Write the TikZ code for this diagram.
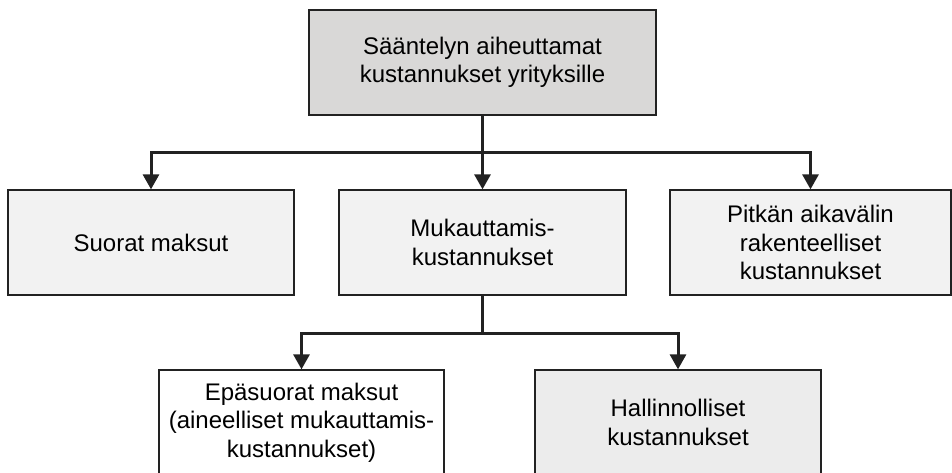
\documentclass[tikz,border=0pt]{standalone}
\usepackage{fontspec}
\setmainfont{Liberation Sans}
\usetikzlibrary{arrows.meta,calc}

\definecolor{topgray}{RGB}{217,216,215}
\definecolor{boxgray}{RGB}{242,242,242}
\definecolor{admgray}{RGB}{236,236,236}
\definecolor{edge}{RGB}{34,34,34}

\tikzset{
  costbox/.style={draw=edge, line width=1.3pt, inner sep=0pt, minimum height=105pt,
    align=center, font=\fontsize{24}{28.5}\selectfont},
  trunk/.style={draw=edge, line width=3pt},
  branch/.style={trunk, -{Triangle[width=16pt,length=15pt]}},
}

\begin{document}
\begin{tikzpicture}[x=1pt,y=1pt]
    \useasboundingbox (0,0) rectangle (952,472);
    \clip (0,0) rectangle (952,472);
    % top level
    \node[costbox, fill=topgray, minimum width=347pt] (root) at (482.5,409.5)
      {Sääntelyn aiheuttamat\\kustannukset yrityksille};
    % second level
    \node[costbox, fill=boxgray, minimum width=286pt] (suorat) at (151,229.5) {Suorat maksut};
    \node[costbox, fill=boxgray, minimum width=287pt] (mukaut) at (482.5,229.5)
      {Mukauttamis-\\kustannukset};
    \node[costbox, fill=boxgray, minimum width=281pt] (pitka) at (810.5,229.5)
      {Pitkän aikavälin\\rakenteelliset\\kustannukset};
    % third level
    \node[costbox, fill=white, minimum width=285pt] (epasuorat) at (301.5,49.5)
      {Epäsuorat maksut\\(aineelliset mukauttamis-\\kustannukset)};
    \node[costbox, fill=admgray, minimum width=286pt] (hallinto) at (678,49.5)
      {Hallinnolliset\\kustannukset};
    % connectors
    \coordinate (split1) at ($(root.south)+(0,-37)$);
    \coordinate (split2) at ($(mukaut.south)+(0,-38)$);
    \draw[trunk] (root.south) -- (split1);
    \draw[branch] (split1) -| (suorat.north);
    \draw[branch] (split1) -- (mukaut.north);
    \draw[branch] (split1) -| (pitka.north);
    \draw[trunk] (mukaut.south) -- (split2);
    \draw[branch] (split2) -| (epasuorat.north);
    \draw[branch] (split2) -| (hallinto.north);
\end{tikzpicture}
\end{document}
